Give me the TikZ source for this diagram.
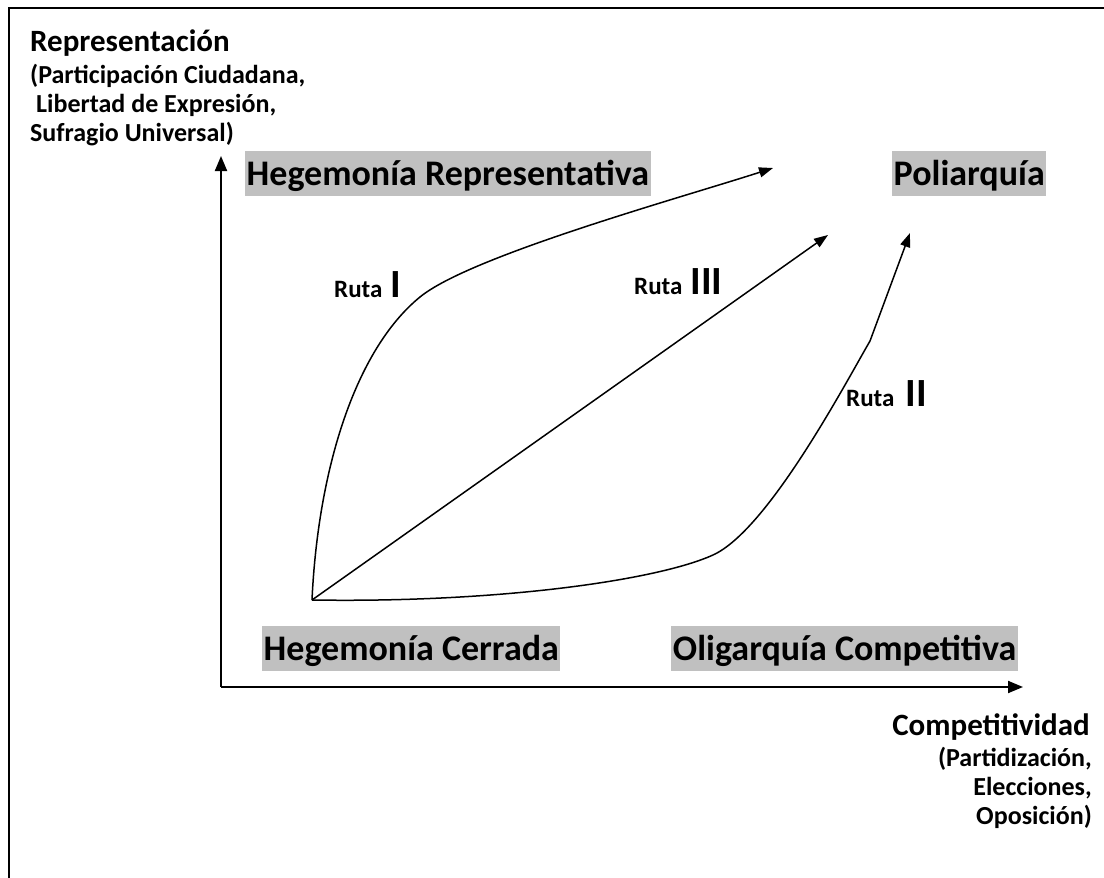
\documentclass[tikz,border=0pt]{standalone}
\usepackage{fontspec}
\setmainfont{Carlito}
\usetikzlibrary{arrows.meta}
\definecolor{boxgray}{RGB}{192,192,192}
\tikzset{
  regime/.style={fill=boxgray, inner xsep=1.5pt, inner ysep=0pt, text height=34pt, text depth=11pt, font=\fontsize{36pt}{43pt}\selectfont\bfseries},
  axislbl/.style={font=\fontsize{31pt}{37pt}\selectfont\bfseries, inner sep=0pt},
  sublbl/.style={font=\fontsize{26pt}{31pt}\selectfont\bfseries, inner sep=0pt},
  rutalbl/.style={font=\fontsize{25pt}{30pt}\selectfont\bfseries, inner sep=0pt},
  axisline/.style={line width=2pt, -{Triangle[length=15pt,width=12pt]}},
  route/.style={line width=1.5pt, -{Triangle[length=14pt,width=10pt]}},
  frameline/.style={line width=2.5pt}
}
\newcommand{\bignumeral}[1]{{\fontsize{40pt}{48pt}\selectfont #1}}
\begin{document}
\begin{tikzpicture}[x=1pt,y=-1pt]
\useasboundingbox (0,0) rectangle (1104,878);
\clip (0,0) rectangle (1104,878);
\draw[frameline] (9,8) rectangle (1130,900);

% axes
\coordinate (origin) at (221,687);
\coordinate (ytip) at (221,156);
\coordinate (xtip) at (1023,687);
\draw[axisline] (origin) -- (ytip);
\draw[axisline] (origin) -- (xtip);

% axis labels
\node[axislbl, anchor=base west] (ytitle) at (30,51) {Representación};
\node[sublbl, anchor=base west] (ysub1) at (30,83) {(Participación Ciudadana,};
\node[sublbl, anchor=base west] (ysub2) at (36,112) {Libertad de Expresión,};
\node[sublbl, anchor=base west] (ysub3) at (30,141) {Sufragio Universal)};

\node[axislbl, anchor=base east] (xtitle) at (1090,735) {Competitividad};
\node[sublbl, anchor=base east] (xsub1) at (1092,766) {(Partidización,};
\node[sublbl, anchor=base east] (xsub2) at (1092,795) {Elecciones,};
\node[sublbl, anchor=base east] (xsub3) at (1092,824) {Oposición)};

% regimes
\node[regime, anchor=north west] (hrep) at (245,151) {Hegemonía Representativa};
\node[regime, anchor=north west] (poli) at (892,151) {Poliarquía};
\node[regime, anchor=north west] (hcer) at (262,626) {Hegemonía Cerrada};
\node[regime, anchor=north east] (olig) at (1018,626) {Oligarquía Competitiva};

% routes
\coordinate (O) at (312,600);
\coordinate (tipI) at (773,168);
\coordinate (tipIII) at (828,235);
\coordinate (tipII) at (910,233);
\coordinate (kinkII) at (870,341);
\coordinate (bendI) at (420,297);
\coordinate (bendII) at (713,555);

\draw[route] (O) .. controls (318,470) and (355,350) .. (bendI)
  .. controls (470,256) and (680,198) .. (tipI);
\draw[route] (O) -- (tipIII);
\draw[route] (O) .. controls (500,603) and (658,580) .. (bendII)
  .. controls (768,530) and (845,384) .. (kinkII) -- (tipII);

% route labels
\node[rutalbl, anchor=base west] (rutaI) at (334,297) {Ruta\hspace{8pt}\bignumeral{I}};
\node[rutalbl, anchor=base west] (rutaIII) at (634,294) {Ruta\hspace{8pt}\bignumeral{III}};
\node[rutalbl, anchor=base west] (rutaII) at (846,406) {Ruta\hspace{11pt}\bignumeral{II}};
\end{tikzpicture}
\end{document}
